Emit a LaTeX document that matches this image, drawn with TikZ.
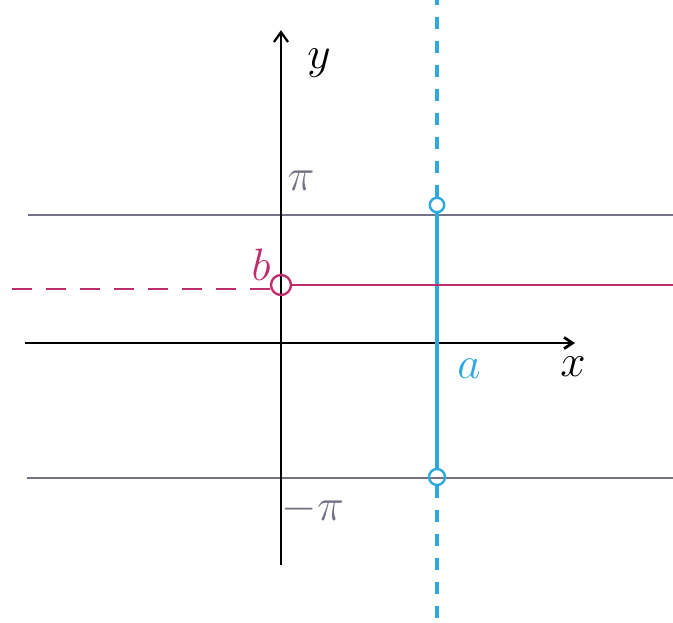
\documentclass[tikz,border=0pt]{standalone}
\usepackage{amsmath}
\usepackage{amssymb}
\usetikzlibrary{arrows.meta}
\definecolor{penred}{RGB}{192,45,108}
\definecolor{penblue}{RGB}{45,168,225}
\definecolor{ruled}{RGB}{115,115,135}

\begin{document}
\begin{tikzpicture}[
  hole/.style={circle,draw,line width=1.7pt,inner sep=0pt,minimum size=#1},
  lbl/.style={font=\Huge,scale=1.3}]
\useasboundingbox (-7.025,-6.975) rectangle (9.8,8.575);

% ruled lines at pi and -pi
\coordinate (pl) at (-6.32,3.2);
\coordinate (pr) at (9.8,3.2);
\coordinate (ml) at (-6.35,-3.37);
\coordinate (mr) at (9.8,-3.37);
\draw[ruled,line width=1.2pt] (pl) -- (pr);
\draw[ruled,line width=1.2pt] (ml) -- (mr);

% axes
\coordinate (yb) at (0,-5.55);
\coordinate (yt) at (0,7.82);
\coordinate (xl) at (-6.4,0);
\coordinate (xr) at (7.35,0);
\draw[line width=1.6pt,-{Straight Barb[length=7pt,width=10pt]}] (yb) -- (yt);
\draw[line width=2pt,-{Straight Barb[length=6pt,width=8pt]}] (xl) -- (xr);
\draw (0.95,7.0) node[lbl] (ylab) {$y$};
\draw (7.3,-0.6) node[lbl] (xlab) {$x$};
\draw (0.5,4.05) node[lbl,ruled] (pi) {$\pi$};
\draw (0.8,-4.15) node[lbl,ruled] (mpi) {$-\pi$};

% vertical line x = a
\node[hole=0.36cm,penblue] (atop) at (3.9,3.45) {};
\node[hole=0.4cm,penblue] (abot) at (3.9,-3.35) {};
\coordinate (at) at (3.9,8.575);
\coordinate (ab) at (3.9,-6.975);
\draw[penblue,line width=2.3pt] (atop) -- (abot);
\draw[penblue,line width=2.3pt,dash pattern=on 0.3cm off 0.3cm] (atop) -- (at);
\draw[penblue,line width=2.3pt,dash pattern=on 0.3cm off 0.3cm] (abot) -- (ab);
\draw (4.7,-0.65) node[lbl,penblue] (alab) {$a$};

% horizontal line y = b
\node[hole=0.5cm,penred] (bpt) at (0,1.45) {};
\coordinate (br) at (9.8,1.45);
\coordinate (bl) at (-6.9,1.35);
\draw[penred,line width=2pt] (bpt) -- (br);
\draw[penred,line width=2pt,dash pattern=on 0.5cm off 0.35cm] (bpt.west |- bl) -- (bl);
\draw (-0.5,1.95) node[lbl,penred] (blab) {$b$};
\end{tikzpicture}
\end{document}
